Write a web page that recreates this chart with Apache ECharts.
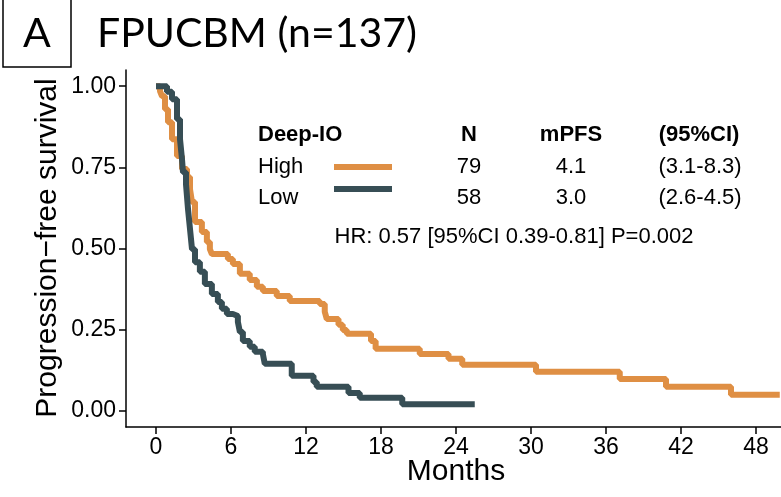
<!DOCTYPE html>
<html lang="en">
<head>
    <meta charset="UTF-8">
    <title>FPUCBM</title>
    <style>
        html, body { margin: 0; padding: 0; background: #fff; }
        #box { width: 781px; height: 497px; }
    </style>
    <script src="https://cdn.jsdelivr.net/npm/echarts@6/dist/echarts.min.js"></script>
</head>
<body>
    <div id="box"></div>
    <script>
        // Kaplan-Meier steps (months, survival)
        const highTime = [0, 0.32, 0.48, 0.72, 0.96, 1.28, 1.68, 2.08, 2.48, 2.72, 2.88, 3.12, 3.67, 4.07, 4.31, 4.47, 5.75, 6.15, 6.71, 7.5, 8.07, 8.55, 9.66, 10.7, 13.1, 13.5, 13.66, 14.6, 14.94, 15.26, 17.2, 17.57, 21.1, 23.4, 24.5, 30.4, 37.1, 40.8, 46.0, 49.9]
        const highSurv = [1.0, 0.985, 0.969, 0.929, 0.889, 0.837, 0.785, 0.745, 0.72, 0.683, 0.643, 0.582, 0.551, 0.52, 0.498, 0.483, 0.468, 0.452, 0.422, 0.403, 0.382, 0.369, 0.354, 0.338, 0.329, 0.305, 0.283, 0.265, 0.249, 0.237, 0.215, 0.191, 0.175, 0.160, 0.1415, 0.12, 0.098, 0.074, 0.049, 0.049]

        const lowTime = [0, 0.88, 1.28, 1.68, 1.92, 2.08, 2.16, 2.4, 2.56, 2.72, 2.88, 3.12, 3.51, 3.91, 4.47, 4.95, 5.27, 5.67, 6.15, 6.55, 6.71, 6.95, 7.5, 7.9, 8.55, 8.7, 10.86, 12.6, 12.86, 15.4, 16.3, 19.7, 25.5]
        const lowSurv = [1.0, 0.983, 0.96, 0.898, 0.837, 0.775, 0.735, 0.698, 0.622, 0.56, 0.498, 0.458, 0.428, 0.391, 0.36, 0.335, 0.314, 0.298, 0.292, 0.274, 0.243, 0.215, 0.197, 0.182, 0.175, 0.145, 0.108, 0.089, 0.074, 0.055, 0.04, 0.02, 0.02]

        const xTicks = [0, 6, 12, 18, 24, 30, 36, 42, 48]
        const yTicks = [0, 0.25, 0.5, 0.75, 1]

        // legend table
        const groups = ['High', 'Low']
        const groupN = ['79', '58']
        const groupMPFS = ['4.1', '3.0']
        const groupCI = ['(3.1-8.3)', '(2.6-4.5)']
        const headers = ['Deep-IO', 'N', 'mPFS', '(95%CI)']
        const hrText = 'HR: 0.57 [95%CI 0.39-0.81] P=0.002'

        const colors = ['#DF8F44', '#374E55']
        const font = 'Liberation Sans, Arial, sans-serif'

        var box = document.querySelector('#box')
        const myChart = echarts.init(box)

        const graphics = [
            // panel letter box
            { type: 'rect', shape: { x: 3, y: -3, width: 68, height: 70 },
              style: { fill: 'none', stroke: '#000', lineWidth: 1.5 } },
            { type: 'text', x: 37, y: 34,
              style: { text: 'A', font: '41px Lato', fill: '#000', align: 'center', verticalAlign: 'middle' } },
            { type: 'text', x: 97, y: 34,
              style: { text: 'FPUCBM (n=137)', font: '41px Lato', fill: '#000', align: 'left', verticalAlign: 'middle' } },
            // axis titles
            { type: 'text', x: 48, y: 248, rotation: Math.PI / 2,
              style: { text: 'Progression\u2212free survival', font: '30px ' + font, fill: '#000', align: 'center', verticalAlign: 'middle' } },
            { type: 'text', x: 456, y: 472,
              style: { text: 'Months', font: '30px ' + font, fill: '#000', align: 'center', verticalAlign: 'middle' } },
            { type: 'text', x: 514, y: 237,
              style: { text: hrText, font: '22px ' + font, fill: '#000', align: 'center', verticalAlign: 'middle' } }
        ]

        const colX = [258, 469, 571, 699]
        headers.forEach(function(h, i) {
            graphics.push({ type: 'text', x: colX[i], y: 135,
                style: { text: h, font: 'bold 22px ' + font, fill: '#000',
                         align: i === 0 ? 'left' : 'center', verticalAlign: 'middle' } })
        })
        const rowY = [167, 198]
        const lineY = [167, 189]
        groups.forEach(function(g, i) {
            const cells = [g, groupN[i], groupMPFS[i], groupCI[i]]
            cells.forEach(function(c, j) {
                graphics.push({ type: 'text', x: colX[j] + (j === 3 ? 1 : 0), y: rowY[i],
                    style: { text: c, font: '22px ' + font, fill: '#000',
                             align: j === 0 ? 'left' : 'center', verticalAlign: 'middle' } })
            })
            graphics.push({ type: 'line', shape: { x1: 334, y1: lineY[i], x2: 392, y2: lineY[i] },
                style: { stroke: colors[i], lineWidth: 6 } })
        })

        var option = {
            animation: false,
            graphic: graphics,
            grid: { left: 126, right: 0, top: 70, bottom: 70 },
            xAxis: {
                type: 'value',
                min: -2.4,
                max: 50,
                axisLine: { onZero: false, lineStyle: { color: '#000', width: 1.5 } },
                axisTick: { customValues: xTicks, length: 7, lineStyle: { color: '#000', width: 1.5 } },
                axisLabel: { customValues: xTicks, margin: 9, color: '#000', fontSize: 23, fontFamily: font },
                splitLine: { show: false }
            },
            yAxis: {
                type: 'value',
                min: -0.05,
                max: 1.05,
                axisLine: { show: true, onZero: false, lineStyle: { color: '#000', width: 1.5 } },
                axisTick: { show: true, customValues: yTicks, length: 7, lineStyle: { color: '#000', width: 1.5 } },
                axisLabel: {
                    customValues: yTicks, margin: 10, color: '#000', fontSize: 23, fontFamily: font,
                    formatter: function(v) { return v.toFixed(2) }
                },
                splitLine: { show: false }
            },
            series: [{
                name: 'High',
                type: 'line',
                step: 'end',
                showSymbol: false,
                data: highTime.map(function(t, i) { return [t, highSurv[i]] }),
                lineStyle: { color: colors[0], width: 6 },
                itemStyle: { color: colors[0] }
            }, {
                name: 'Low',
                type: 'line',
                step: 'end',
                showSymbol: false,
                data: lowTime.map(function(t, i) { return [t, lowSurv[i]] }),
                lineStyle: { color: colors[1], width: 6 },
                itemStyle: { color: colors[1] }
            }]
        }

        myChart.setOption(option)
    </script>
</body>
</html>
